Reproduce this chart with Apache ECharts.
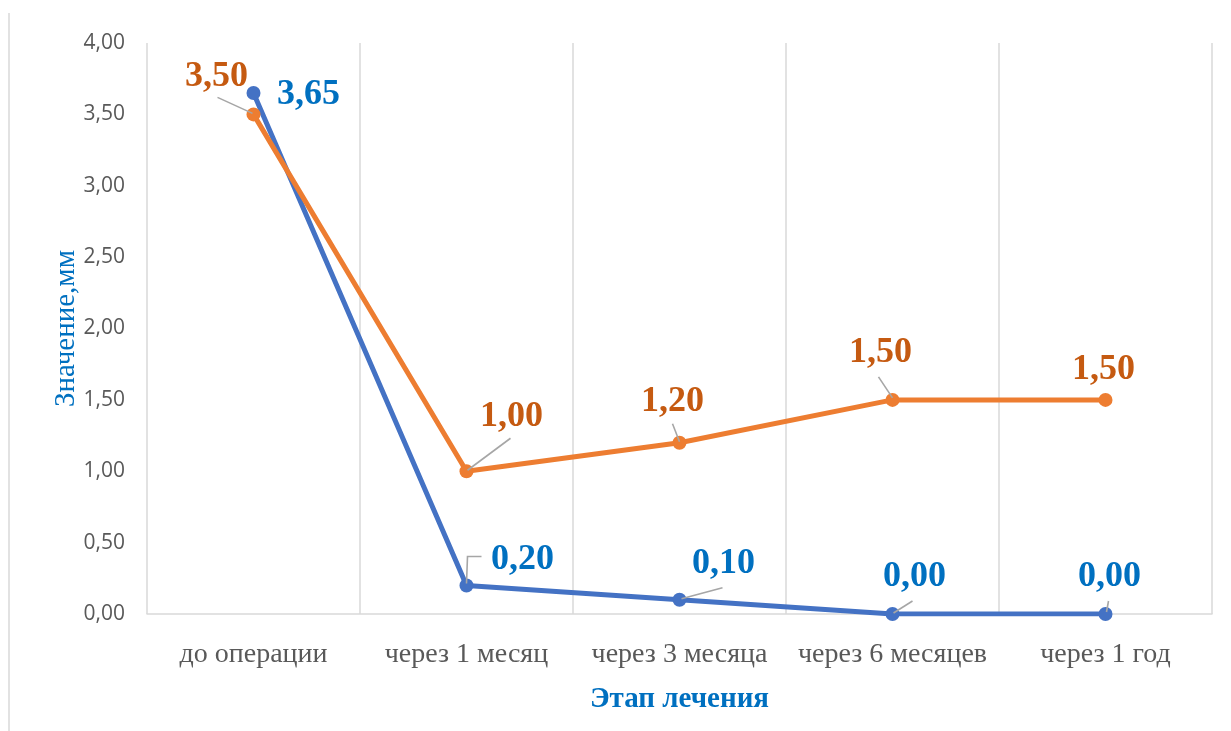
<!DOCTYPE html>
<html>
<head>
<meta charset="utf-8">
<script src="https://cdn.jsdelivr.net/npm/echarts@6/dist/echarts.min.js"></script>
<style>
  html, body { margin: 0; padding: 0; background: #ffffff; }
  #chart { width: 1231px; height: 731px; }
</style>
</head>
<body>
<div id="chart"></div>
<script>
// Stages of treatment and measured values (mm)
const stages = ['до операции', 'через 1 месяц', 'через 3 месяца', 'через 6 месяцев', 'через 1 год'];
const seriesBlue = [3.65, 0.20, 0.10, 0.00, 0.00];
const seriesOrange = [3.50, 1.00, 1.20, 1.50, 1.50];
const yTicks = { min: 0, max: 4, step: 0.5 };

// Label placement relative to each point (label centre offset, px)
const blueLabelShift = [[55, 2], [56, -26], [44, -36], [22, -37], [4, -37]];
const orangeLabelShift = [[-37, -38], [45, -55], [-7, -41], [-12, -47], [-2, -30]];

// Leader lines: polyline vertices relative to each point (px); empty = no leader
const blueLeaders = [
  [],
  [[15, -29], [1, -29], [0, -2]],
  [[43, -12], [2, -1]],
  [[20, -13], [1, -1]],
  [[3, -13], [1, -2]]
];
const orangeLeaders = [
  [[-36, -17], [-1, -1]],
  [[44, -33], [1, -1]],
  [[-7, -19], [0, -1]],
  [[-14, -23], [0, -2]],
  []
];

const fmt = v => v.toFixed(2).replace('.', ',');

const chart = echarts.init(document.getElementById('chart'), null, { renderer: 'canvas' });

function lineSeries(name, values, color, labelColor) {
  return {
    name: name,
    type: 'line',
    data: values,
    symbol: 'circle',
    symbolSize: 14,
    showAllSymbol: true,
    lineStyle: { color: color, width: 5 },
    itemStyle: { color: color },
    label: {
      show: true,
      position: 'inside',
      formatter: p => fmt(p.value),
      fontFamily: 'Liberation Serif',
      fontWeight: 'bold',
      fontSize: 36,
      color: labelColor
    }
  };
}

function leaderSeries(values, leaders) {
  return {
    type: 'custom',
    z: 5,
    silent: true,
    data: values.map((v, i) => [i, v]),
    renderItem: function (params, api) {
      const pts = leaders[params.dataIndex];
      if (!pts.length) return null;
      const c = api.coord([api.value(0), api.value(1)]);
      return {
        type: 'polyline',
        shape: { points: pts.map(p => [c[0] + p[0], c[1] + p[1]]) },
        style: { stroke: '#a6a6a6', lineWidth: 1.6, fill: null }
      };
    }
  };
}

const shifts = [blueLabelShift, orangeLabelShift];

chart.setOption({
  animation: false,
  backgroundColor: '#ffffff',
  grid: { left: 147, right: 19, top: 43, bottom: 117, containLabel: false },
  xAxis: {
    type: 'category',
    data: stages,
    boundaryGap: true,
    axisTick: { show: false },
    axisLine: { show: true, lineStyle: { color: '#d9d9d9', width: 1.5 } },
    splitLine: { show: true, interval: 0, lineStyle: { color: '#d9d9d9', width: 1.5 } },
    axisLabel: {
      interval: 0,
      color: '#595959',
      fontFamily: 'Liberation Serif',
      fontSize: 28,
      margin: 27
    },
    name: 'Этап лечения',
    nameLocation: 'middle',
    nameGap: 71,
    nameTextStyle: {
      color: '#0070C0',
      fontFamily: 'Liberation Serif',
      fontWeight: 'bold',
      fontSize: 29
    }
  },
  yAxis: {
    type: 'value',
    min: yTicks.min,
    max: yTicks.max,
    interval: yTicks.step,
    axisLine: { show: false },
    axisTick: { show: false },
    splitLine: { show: false },
    axisLabel: {
      color: '#595959',
      fontFamily: 'Open Sans',
      fontSize: 21,
      margin: 22,
      formatter: v => fmt(v)
    },
    name: 'Значение,мм',
    nameLocation: 'middle',
    nameGap: 66,
    nameMoveOverlap: false,
    nameRotate: 90,
    nameTextStyle: {
      color: '#0070C0',
      fontFamily: 'Liberation Serif',
      fontSize: 29
    }
  },
  series: [
    lineSeries('Ряд 1', seriesBlue, '#4472C4', '#0070C0'),
    lineSeries('Ряд 2', seriesOrange, '#ED7D31', '#C55A11'),
    leaderSeries(seriesBlue, blueLeaders),
    leaderSeries(seriesOrange, orangeLeaders)
  ],
  labelLayout: function (params) {
    const s = shifts[params.seriesIndex];
    if (!s) return {};
    const d = s[params.dataIndex];
    return { dx: d[0], dy: d[1] };
  },
  graphic: [
    {
      type: 'line',
      shape: { x1: 9, y1: 13, x2: 9, y2: 731 },
      style: { stroke: '#d9d9d9', lineWidth: 1.5 },
      silent: true
    }
  ]
});
</script>
</body>
</html>
